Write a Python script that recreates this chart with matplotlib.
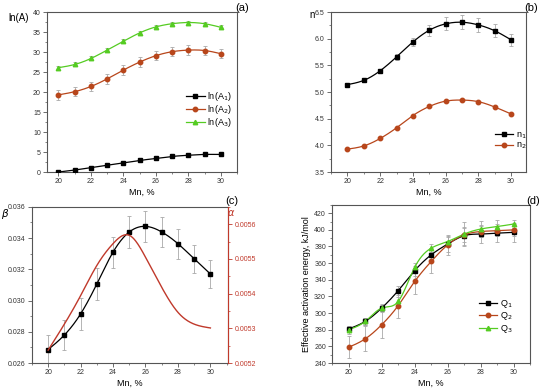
import numpy as np
import matplotlib.pyplot as plt
from matplotlib.ticker import MultipleLocator, FormatStrFormatter

# data
mn = [20, 21, 22, 23, 24, 25, 26, 27, 28, 29, 30]

ln_a1 = [0.0, 0.5, 1.1, 1.7, 2.3, 2.9, 3.4, 3.9, 4.2, 4.4, 4.4]
ln_a2 = [19.3, 20.1, 21.4, 23.3, 25.5, 27.5, 29.1, 30.1, 30.5, 30.4, 29.6]
ln_a3 = [26.1, 26.9, 28.4, 30.5, 32.7, 34.8, 36.3, 37.1, 37.4, 37.1, 36.2]
ln_a2_err = [1.2, 1.1, 1.2, 1.3, 1.3, 1.3, 1.2, 1.2, 1.2, 1.1, 1.1]
ln_a3_err = [0.5, 0.5, 0.5, 0.5, 0.5, 0.5, 0.5, 0.5, 0.5, 0.5, 0.5]

n1 = [5.14, 5.22, 5.40, 5.66, 5.94, 6.16, 6.28, 6.31, 6.26, 6.15, 5.98]
n2 = [3.93, 3.99, 4.13, 4.33, 4.56, 4.73, 4.83, 4.85, 4.82, 4.72, 4.59]
n1_err = [0.03, 0.03, 0.04, 0.05, 0.08, 0.10, 0.12, 0.13, 0.13, 0.12, 0.11]

beta = [0.02686, 0.02779, 0.02914, 0.03106, 0.03310, 0.03439, 0.03475, 0.03439, 0.03364, 0.03267, 0.03170]
beta_err = [0.00095, 0.00095, 0.001, 0.001, 0.001, 0.00105, 0.001, 0.00095, 0.00095, 0.0009, 0.0009]
alpha = [0.005237, 0.005312, 0.005394, 0.005481, 0.005544, 0.005568, 0.005505, 0.005418, 0.005346, 0.005312, 0.005301]

q1 = [281, 290, 306, 327, 351, 370, 383, 393, 395, 396, 397]
q2 = [259, 269, 286, 309, 338, 362, 382, 394, 398, 399, 400]
q3 = [280, 290, 306, 314, 355, 378, 386, 395, 401, 404, 407]
q1_err = [4, 4, 5, 5, 6, 8, 10, 11, 11, 11, 11]
q2_err = [13, 15, 16, 15, 15, 14, 12, 8, 7, 6, 7]
q3_err = [5, 4, 4, 5, 5, 5, 6, 15, 10, 8, 5]

BLACK = "#000000"
BROWN = "#b8461b"
GREEN = "#55cc22"
RED = "#c0392b"
ERR = "#a8a8a8"
FRAME = "#555555"

plt.rcParams["font.family"] = "Liberation Sans"
plt.rcParams["font.size"] = 6


def spline(x, y, n=30):
    # natural cubic spline through the points, only for drawing the connecting line
    x = np.asarray(x, float)
    y = np.asarray(y, float)
    k = len(x)
    h = np.diff(x)
    A = np.zeros((k, k))
    b = np.zeros(k)
    A[0, 0] = A[-1, -1] = 1
    for i in range(1, k - 1):
        A[i, i - 1] = h[i - 1]
        A[i, i] = 2 * (h[i - 1] + h[i])
        A[i, i + 1] = h[i]
        b[i] = 6 * ((y[i + 1] - y[i]) / h[i] - (y[i] - y[i - 1]) / h[i - 1])
    M = np.linalg.solve(A, b)
    xs, ys = [], []
    for i in range(k - 1):
        t = np.linspace(x[i], x[i + 1], n, endpoint=False)
        a = x[i + 1] - t
        c = t - x[i]
        s = (M[i] * a**3 + M[i + 1] * c**3) / (6 * h[i]) \
            + (y[i] / h[i] - M[i] * h[i] / 6) * a + (y[i + 1] / h[i] - M[i + 1] * h[i] / 6) * c
        xs.append(t)
        ys.append(s)
    xs.append([x[-1]])
    ys.append([y[-1]])
    return np.concatenate(xs), np.concatenate(ys)


def series(ax, y, color, marker, label, err=None, ms=3.2):
    if err is not None:
        ax.errorbar(mn, y, yerr=err, fmt="none", ecolor=ERR, elinewidth=0.6,
                    capsize=1.5, capthick=0.6, zorder=1)
    sx, sy = spline(mn, y)
    ax.plot(sx, sy, color=color, linewidth=0.9, zorder=2)
    ax.plot(mn, y, linestyle="none", marker=marker, color=color, markersize=ms, zorder=3)
    ax.plot([], [], color=color, marker=marker, markersize=ms, linewidth=0.9, label=label)


def style(ax, xlim, ylim, ymaj, ymin):
    ax.set_xlim(*xlim)
    ax.set_ylim(*ylim)
    ax.xaxis.set_major_locator(MultipleLocator(2))
    ax.xaxis.set_minor_locator(MultipleLocator(1))
    ax.yaxis.set_major_locator(MultipleLocator(ymaj))
    ax.yaxis.set_minor_locator(MultipleLocator(ymin))
    ax.tick_params(which="both", direction="out", top=False, right=False,
                   color=FRAME, labelsize=5, pad=1.5, labelcolor="#333333")
    ax.tick_params(which="major", length=3, width=0.6)
    ax.tick_params(which="minor", length=1.6, width=0.5)
    for s in ax.spines.values():
        s.set_color(FRAME)
        s.set_linewidth(0.8)
    ax.set_xlabel("Mn, %", fontsize=6.5, labelpad=2)


def legend(ax, x, y, spacing):
    ax.legend(loc="upper left", bbox_to_anchor=(x, y), frameon=False, fontsize=6.5,
              handlelength=2.0, handletextpad=0.3, labelspacing=spacing, borderpad=0)


fig = plt.figure(figsize=(5.5, 3.91), dpi=100)

# (a)
ax = fig.add_axes([0.0855, 0.560, 0.3455, 0.409])
series(ax, ln_a1, BLACK, "s", r"ln(A$_1$)")
series(ax, ln_a2, BROWN, "o", r"ln(A$_2$)", ln_a2_err)
series(ax, ln_a3, GREEN, "^", r"ln(A$_3$)", ln_a3_err)
style(ax, (19.3, 31), (0, 40), 5, 2.5)
legend(ax, 0.71, 0.54, 0.0)
fig.text(0.015, 0.955, "ln(A)", fontsize=7, ha="left", va="center")
fig.text(0.44, 0.98, "(a)", fontsize=8, ha="center", va="center")

# (b)
ax = fig.add_axes([0.602, 0.560, 0.354, 0.409])
series(ax, n1, BLACK, "s", r"n$_1$", n1_err)
series(ax, n2, BROWN, "o", r"n$_2$")
style(ax, (19, 30.9), (3.5, 6.5), 0.5, 0.25)
ax.yaxis.set_major_formatter(FormatStrFormatter("%.1f"))
legend(ax, 0.82, 0.29, 0.0)
fig.text(0.567, 0.962, "n", fontsize=7, ha="center", va="center")
fig.text(0.966, 0.98, "(b)", fontsize=8, ha="center", va="center")

# (c)
ax = fig.add_axes([0.058, 0.0716, 0.357, 0.3994])
series(ax, beta, BLACK, "s", r"$\beta$", beta_err)
style(ax, (19, 31.1), (0.026, 0.036), 0.002, 0.001)
ax.yaxis.set_major_formatter(FormatStrFormatter("%.3f"))
ax2 = ax.twinx()
sx, sy = spline(mn, alpha)
ax2.plot(sx, sy, color=RED, linewidth=1.0)
ax2.set_ylim(0.0052, 0.00565)
ax2.yaxis.set_major_locator(MultipleLocator(0.0001))
ax2.yaxis.set_minor_locator(MultipleLocator(0.00005))
ax2.yaxis.set_major_formatter(FormatStrFormatter("%.4f"))
ax2.tick_params(which="both", direction="out", colors=RED, labelsize=5, pad=1.5)
ax2.tick_params(which="major", length=3, width=0.6)
ax2.tick_params(which="minor", length=1.6, width=0.5)
for s in ax2.spines.values():
    s.set_visible(False)
ax2.spines["right"].set_visible(True)
ax2.spines["right"].set_color(RED)
ax2.spines["right"].set_linewidth(0.8)
fig.text(0.009, 0.452, r"$\beta$", fontsize=7.5, ha="center", va="center")
fig.text(0.42, 0.455, r"$\alpha$", fontsize=7, color=RED, ha="center", va="center")
fig.text(0.422, 0.486, "(c)", fontsize=8, ha="center", va="center")

# (d)
ax = fig.add_axes([0.604, 0.0716, 0.36, 0.4044])
series(ax, q1, BLACK, "s", r"Q$_1$", q1_err)
series(ax, q2, BROWN, "o", r"Q$_2$", q2_err)
series(ax, q3, GREEN, "^", r"Q$_3$", q3_err)
style(ax, (19, 31), (240, 430), 20, 10)
ax.set_ylabel("Effective activation energy, kJ/mol", fontsize=6.5, labelpad=2)
legend(ax, 0.72, 0.44, 0.05)
fig.text(0.969, 0.486, "(d)", fontsize=8, ha="center", va="center")

fig.savefig("out.png", dpi=100)
